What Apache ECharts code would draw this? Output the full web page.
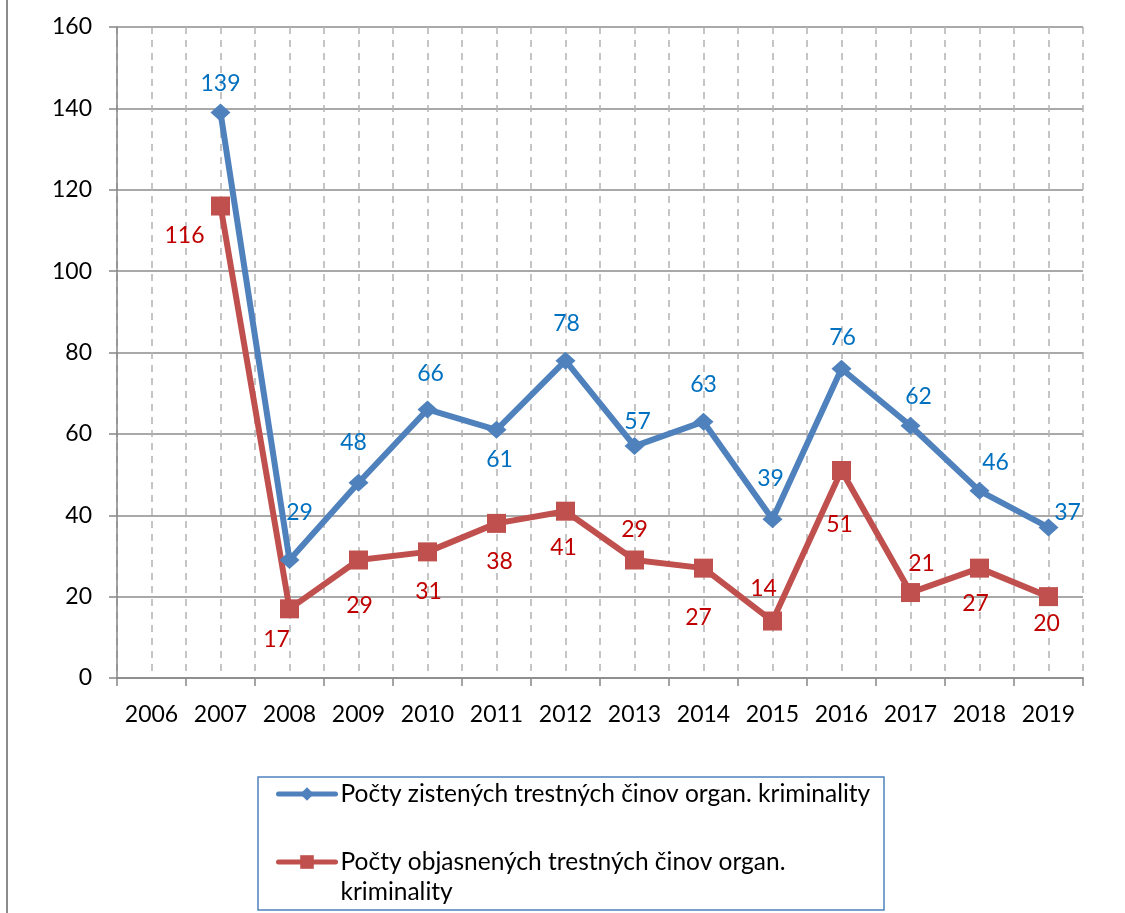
<!DOCTYPE html>
<html><head><meta charset="utf-8">
<script src="https://cdn.jsdelivr.net/npm/echarts@6/dist/echarts.min.js"></script>
<style>html,body{margin:0;padding:0;background:#fff}#c{width:1125px;height:913px}</style>
</head><body><div id="c"></div>
<script>
const categories = ['2006','2007','2008','2009','2010','2011','2012','2013','2014','2015','2016','2017','2018','2019'];
const zistene = [null,139,29,48,66,61,78,57,63,39,76,62,46,37];
const objasnene = [null,116,17,29,31,38,41,29,27,14,51,21,27,20];
const nameZistene = 'Počty zistených trestných činov organ. kriminality';
const nameObjasnene = 'Počty objasnených trestných činov organ. kriminality';
const yMin = 0, yMax = 160, yStep = 20;

// label offsets (style only), relative to the point
const zisteneLabelOffsets = [null,[0,-29],[10,-47],[-5,-40],[3,-36],[3,30],[1,-37],[3,-25],[0,-37],[-2,-41],[1,-31],[8,-29],[16,-28],[19,-15]];
const objasneneLabelOffsets = [null,[-36,30],[-13,31],[1,46],[1,40],[3,38],[-2,36],[0,-30],[-5,49],[-9,-32],[-2,54],[11,-29],[-4,35],[-2,27]];

const FONT = 'Lato, "Open Sans", sans-serif';
const halfSlots = [];
categories.forEach(c => { halfSlots.push(c + 'a'); halfSlots.push(c + 'b'); });

function build(values, offsets) {
  return values.map((v, i) => v == null ? null : { value: v, label: { offset: offsets[i] } });
}

const chart = echarts.init(document.getElementById('c'), null, { renderer: 'canvas' });
chart.setOption({
  animation: false,
  backgroundColor: '#ffffff',
  grid: { left: 117, right: 42, top: 27, bottom: 235 },
  xAxis: [{
    type: 'category', data: categories, boundaryGap: true,
    axisLine: { lineStyle: { color: '#868686', width: 1.5 } },
    axisTick: { show: true, length: 8, interval: 0, lineStyle: { color: '#868686', width: 1.5 } },
    axisLabel: { interval: 0, margin: 25, color: '#000', fontSize: 23, fontFamily: FONT },
    splitLine: { show: false }
  }, {
    type: 'category', data: halfSlots, boundaryGap: true, position: 'bottom',
    axisLine: { show: false }, axisTick: { show: false }, axisLabel: { show: false },
    splitLine: { show: true, interval: 0, lineStyle: { color: '#B3B3B3', width: 1.5, type: [7, 6] } }
  }],
  yAxis: {
    type: 'value', min: yMin, max: yMax, interval: yStep,
    axisLine: { show: true, lineStyle: { color: '#868686', width: 1.5 } },
    axisTick: { show: true, length: 8, lineStyle: { color: '#868686', width: 1.5 } },
    axisLabel: { margin: 25, color: '#000', fontSize: 23, fontFamily: FONT },
    splitLine: { show: true, lineStyle: { color: '#8C8C8C', width: 1.5 } }
  },
  legend: [{
    left: 276, top: 779, padding: 0, orient: 'vertical', itemWidth: 57, itemHeight: 17,
    data: [nameZistene],
    lineStyle: { width: 5, cap: 'round' },
    textStyle: { color: '#000', fontSize: 24.5, fontFamily: FONT, lineHeight: 30 }
  }, {
    left: 276, top: 817, padding: 0, orient: 'vertical', itemWidth: 57, itemHeight: 17,
    data: [nameObjasnene],
    lineStyle: { width: 5, cap: 'round' },
    formatter: n => '\nPočty objasnených trestných činov organ.\nkriminality',
    textStyle: { color: '#000', fontSize: 24.5, fontFamily: FONT, lineHeight: 30 }
  }],
  graphic: [
    { type: 'line', shape: { x1: 7, y1: 0, x2: 7, y2: 913 }, style: { stroke: '#8C8C8C', lineWidth: 2 }, silent: true },
    { type: 'rect', shape: { x: 258, y: 777, width: 626, height: 133 }, style: { fill: 'none', stroke: '#4F81BD', lineWidth: 1.5 }, silent: true }
  ],
  series: [{
    name: nameZistene, type: 'line', xAxisIndex: 0,
    data: build(zistene, zisteneLabelOffsets),
    symbol: 'diamond', symbolSize: [20, 18],
    lineStyle: { color: '#4F81BD', width: 6 },
    itemStyle: { color: '#4F81BD' },
    label: { show: true, position: 'inside', color: '#0070C0', fontSize: 23, fontFamily: FONT },
    z: 3
  }, {
    name: nameObjasnene, type: 'line', xAxisIndex: 0,
    data: build(objasnene, objasneneLabelOffsets),
    symbol: 'rect', symbolSize: 19,
    lineStyle: { color: '#C0504D', width: 6 },
    itemStyle: { color: '#C0504D' },
    label: { show: true, position: 'inside', color: '#C00000', fontSize: 23, fontFamily: FONT },
    z: 2
  }]
});
</script>
</body></html>
